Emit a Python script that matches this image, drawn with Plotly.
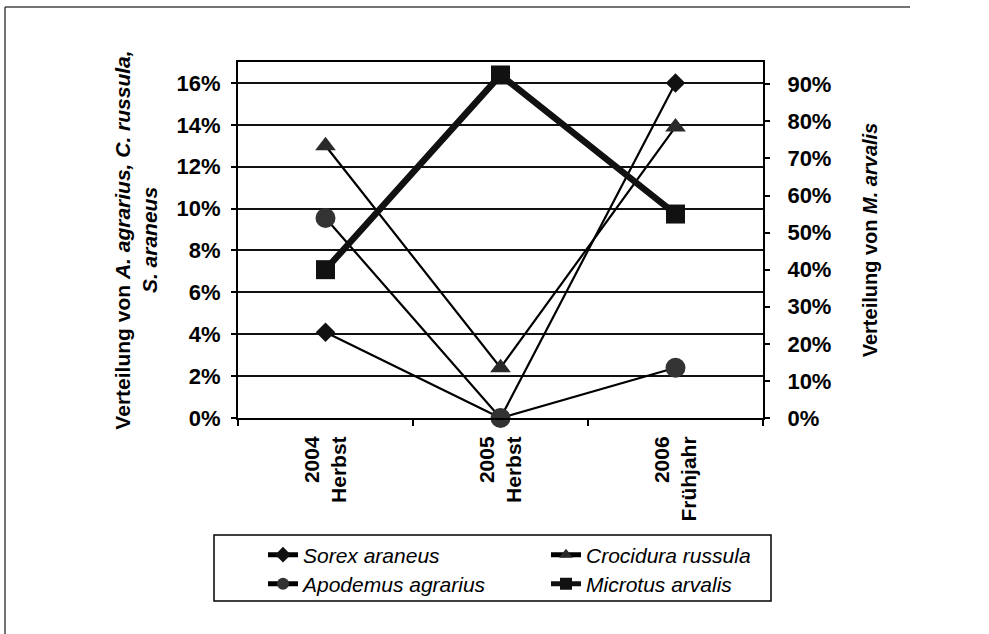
import plotly.graph_objects as go

categories = ["2004<br>Herbst", "2005<br>Herbst", "2006<br>Frühjahr"]
sorex = [0.041, 0.0, 0.16]
crocidura = [0.130, 0.024, 0.139]
apodemus = [0.0955, 0.0, 0.024]
microtus = [0.40, 0.925, 0.55]

left_ticks = [0, 0.02, 0.04, 0.06, 0.08, 0.10, 0.12, 0.14, 0.16]
right_ticks = [0, 0.1, 0.2, 0.3, 0.4, 0.5, 0.6, 0.7, 0.8, 0.9]

FONT = "Liberation Sans"
W, H = 989, 634
L, R, T, B = 238, 226, 62, 216
PW, PH = W - L - R, H - T - B


def px_x(p):
    return (p - L) / PW


def px_y(p):
    return (H - B - p) / PH


fig = go.Figure()

fig.add_trace(go.Scatter(
    x=categories, y=sorex, name="<i>Sorex araneus</i>", mode="lines+markers",
    line=dict(color="black", width=2.2),
    marker=dict(symbol="diamond", size=15, color="#111"),
    cliponaxis=False, legend="legend", showlegend=True))
fig.add_trace(go.Scatter(
    x=categories, y=crocidura, name="<i>Crocidura russula</i>", mode="lines+markers",
    line=dict(color="black", width=2.2),
    marker=dict(symbol="triangle-up", size=18, color="#2a2a2a"),
    cliponaxis=False, legend="legend2", showlegend=True))
fig.add_trace(go.Scatter(
    x=categories, y=apodemus, name="<i>Apodemus agrarius</i>", mode="lines+markers",
    line=dict(color="black", width=2.2),
    marker=dict(symbol="circle", size=20, color="#333"),
    cliponaxis=False, legend="legend3", showlegend=True))
fig.add_trace(go.Scatter(
    x=categories, y=microtus, name="<i>Microtus arvalis</i>", mode="lines+markers",
    line=dict(color="#111", width=6.5),
    marker=dict(symbol="square", size=19, color="#111"),
    yaxis="y2", cliponaxis=False, legend="legend4", showlegend=True))

tickfont = dict(family=FONT, size=22, color="black", weight="bold")


def leg(xp, yp):
    return dict(
        orientation="h", x=px_x(xp), y=px_y(yp), xanchor="left", yanchor="middle",
        bgcolor="rgba(0,0,0,0)", borderwidth=0,
        font=dict(family=FONT, size=21, color="black"), itemsizing="constant",
    )


fig.update_layout(
    width=W, height=H, autosize=False, showlegend=True,
    margin=dict(l=L, r=R, t=T, b=B),
    paper_bgcolor="white", plot_bgcolor="white",
    font=dict(family=FONT, color="black"),
    xaxis=dict(
        type="category", range=[-0.5, 2.5], tickson="boundaries",
        ticks="outside", ticklen=6, tickwidth=1.5, tickcolor="black",
        showline=True, linecolor="black", linewidth=2, mirror=True,
        showgrid=False, tickangle=-90, ticklabelstandoff=8,
        tickfont=dict(family=FONT, size=21, color="black", weight="bold"),
    ),
    yaxis=dict(
        range=[0, 0.17], tickvals=left_ticks, tickformat=".0%",
        showgrid=True, gridcolor="#111", gridwidth=1.5, zeroline=False,
        ticks="outside", ticklen=5, tickwidth=1.5, tickcolor="black",
        showline=True, linecolor="black", linewidth=2, ticklabelstandoff=6,
        tickfont=tickfont,
        title=dict(text="<b>Verteilung von <i>A. agrarius, C. russula,</i></b><br><b><i>S. araneus</i></b>",
                   font=dict(family=FONT, size=21, color="black", weight="bold"), standoff=13),
    ),
    yaxis2=dict(
        range=[0, 0.96], tickvals=right_ticks, tickformat=".0%",
        overlaying="y", side="right", showgrid=False, zeroline=False,
        ticks="outside", ticklen=5, tickwidth=1.5, tickcolor="black",
        showline=True, linecolor="black", linewidth=2, ticklabelstandoff=13,
        tickfont=tickfont,
        title=dict(text="<b>Verteilung von <i>M. arvalis</i></b>",
                   font=dict(family=FONT, size=20, color="black", weight="bold"), standoff=33),
    ),
    legend=leg(263, 555),
    legend2=leg(546, 555),
    legend3=leg(263, 584),
    legend4=leg(546, 584),
    shapes=[
        dict(type="rect", xref="paper", yref="paper",
             x0=px_x(214), x1=px_x(771), y0=px_y(601), y1=px_y(535),
             line=dict(color="black", width=1.5), fillcolor="rgba(0,0,0,0)", layer="below"),
        dict(type="line", xref="paper", yref="paper",
             x0=px_x(5), x1=px_x(910), y0=px_y(7), y1=px_y(7),
             line=dict(color="#444", width=1.5)),
        dict(type="line", xref="paper", yref="paper",
             x0=px_x(5), x1=px_x(5), y0=px_y(7), y1=px_y(634),
             line=dict(color="#444", width=1.5)),
    ],
)

fig.write_html("out.html")
